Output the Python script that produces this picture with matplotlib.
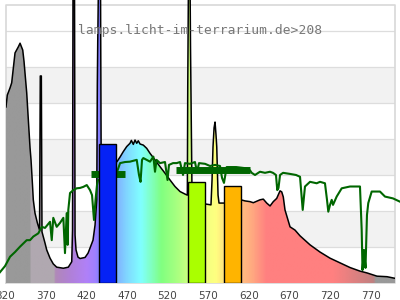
import matplotlib
matplotlib.use("Agg")
import matplotlib.pyplot as plt
import matplotlib.transforms as mtransforms
from matplotlib.colors import LinearSegmentedColormap
from matplotlib.patches import Polygon

# lamp spectrum, wavelength (nm) and relative intensity
lamp_nm = [321.2, 322.8, 326.2, 328.2, 332.3, 336.4, 338.5, 341.8, 343.4, 344.6,
           346.7, 348.7, 350.8, 352.0, 353.8, 354.8, 356.9, 359.8, 362.5, 363.4,
           364.7, 365.5, 369.2, 371.3, 375.4, 379.4, 383.6, 391.8, 397.9, 402.1,
           403.1, 403.7, 405.5, 406.2, 407.4, 409.8, 412.3, 418.5, 422.2, 424.6,
           428.3, 430.8, 432.9, 433.2, 433.6, 434.1, 435.1, 437.5, 438.3, 449.2,
           457.8, 461.6, 465.6, 469.8, 473.8, 475.5, 477.9, 480.0, 482.1, 484.0,
           486.2, 490.2, 494.4, 498.5, 504.6, 510.8, 516.9, 523.1, 529.2, 535.4,
           541.5, 544.4, 544.9, 545.8, 547.7, 548.3, 550.2, 565.0, 573.5, 574.8,
           576.0, 577.3, 578.5, 579.7, 580.6, 582.2, 583.4, 589.5, 610.5, 615.4,
           621.5, 625.6, 633.8, 637.9, 642.1, 646.2, 650.2, 654.4, 658.5, 660.6,
           662.5, 664.6, 670.8, 676.9, 683.1, 695.4, 707.7, 720.0, 732.3, 744.6,
           756.9, 765.5, 777.8, 790.2, 800.0]
lamp_val = [48.9, 52.2, 54.2, 55.6, 63.9, 65.6, 66.6, 64.7, 61.5, 58.3,
            52.8, 45.3, 37.5, 34.2, 27.2, 23.1, 19.4, 16.7, 14.7, 57.5,
            57.5, 14.2, 11.1, 9.2, 6.9, 5.3, 4.4, 4.1, 4.4, 5.9,
            14.7, 85.0, 85.0, 13.3, 9.2, 7.2, 6.8, 7.1, 8.3, 9.7,
            11.9, 16.1, 23.1, 36.9, 55.0, 66.7, 85.0, 85.0, 36.0, 34.0,
            33.7, 35.0, 36.5, 37.9, 38.8, 39.6, 38.5, 39.7, 38.8, 39.5,
            38.6, 38.3, 37.4, 36.0, 34.2, 32.3, 30.5, 28.6, 26.8, 25.4,
            24.7, 24.4, 54.4, 85.0, 85.0, 65.6, 24.0, 22.0, 21.7, 28.6,
            37.8, 43.1, 44.7, 41.1, 37.8, 24.4, 22.2, 22.2, 23.1, 22.8,
            22.6, 22.3, 23.1, 23.3, 22.2, 21.4, 22.6, 23.5, 25.6, 25.3,
            23.9, 20.3, 15.6, 14.7, 13.1, 10.6, 8.6, 6.9, 5.6, 4.3,
            3.3, 2.8, 1.9, 1.75, 1.3]

# sunlight reference curve
sun_nm = [313.8, 320.0, 326.2, 332.3, 338.5, 346.7, 350.8, 354.8, 361.0, 365.2,
          369.2, 375.4, 377.5, 379.4, 383.6, 387.7, 391.8, 393.8, 395.9, 397.1,
          397.9, 400.0, 404.1, 408.2, 412.3, 416.4, 420.6, 424.6, 427.1, 429.5,
          431.4, 433.2, 434.5, 446.0, 457.8, 461.6, 467.7, 473.8, 482.1, 484.9,
          486.8, 488.6, 490.2, 498.5, 502.6, 504.6, 506.5, 510.8, 516.9, 520.0,
          521.8, 526.8, 531.3, 535.4, 539.1, 541.5, 547.7, 553.8, 556.3, 558.8,
          566.2, 572.3, 578.5, 584.6, 587.1, 589.5, 592.8, 604.6, 615.4, 621.5,
          623.6, 627.7, 633.8, 640.0, 646.2, 649.8, 653.5, 655.1, 656.6, 658.5,
          662.2, 670.8, 678.2, 683.1, 686.4, 689.2, 695.4, 703.6, 707.7, 713.8,
          716.3, 717.9, 720.0, 722.1, 723.7, 728.2, 734.4, 744.6, 756.9, 759.0,
          760.0, 761.8, 763.7, 765.5, 767.1, 771.3, 781.5, 787.7, 797.5, 806.0]
sun_val = [3.0, 4.7, 7.3, 8.6, 10.1, 11.9, 11.9, 12.9, 13.8, 15.6,
           15.3, 17.0, 11.9, 18.1, 15.6, 16.7, 18.1, 8.3, 19.4, 10.6,
           20.3, 25.0, 25.8, 26.3, 26.4, 26.7, 27.2, 25.8, 24.4, 17.5,
           23.1, 27.2, 28.6, 30.0, 30.8, 33.3, 33.6, 33.7, 34.2, 30.0,
           28.1, 34.2, 34.7, 33.7, 35.1, 30.9, 34.2, 33.3, 33.6, 28.6,
           32.8, 33.3, 33.3, 33.6, 30.0, 33.3, 33.1, 33.6, 30.8, 33.3,
           33.1, 32.5, 32.8, 32.5, 29.2, 27.8, 32.2, 32.2, 31.9, 31.3,
           30.6, 30.0, 30.9, 30.6, 30.9, 30.6, 30.0, 25.8, 26.4, 30.0,
           30.6, 30.3, 30.0, 29.5, 20.3, 26.8, 28.1, 27.7, 28.1, 27.7,
           23.1, 19.8, 21.7, 23.1, 21.7, 24.0, 26.3, 26.8, 26.8, 14.7,
           3.6, 9.2, 4.2, 18.9, 22.2, 25.4, 25.4, 24.0, 23.5, 22.6]

# dense stretches of the sunlight curve, shown as thick bands
band_nm = [[426.0, 468.0], [531.0, 621.5]]
band_val = [[30.4, 30.4], [31.5, 31.5]]

# channel bars
bar_nm = [446.5, 555.5, 600.0]
bar_val = [38.6, 28.0, 26.9]

tick_nm = [320, 370, 420, 470, 520, 570, 620, 670, 720, 770]
title = "lamps.licht-im-terrarium.de>208"

# wavelength -> fill colour
grad_stops = [(321.2, "#999999"), (350.3, "#999999"), (350.8, "#b0a8b0"),
              (380.0, "#b0a8b0"), (381.5, "#b088b8"), (400.0, "#b080d8"),
              (420.0, "#b080f8"), (430.0, "#a080ff"), (436.0, "#8080ff"),
              (457.0, "#80b0ff"), (470.0, "#80d8ff"), (487.0, "#80ffff"),
              (500.0, "#80ffc0"), (512.0, "#80ff80"), (535.0, "#b0ff80"),
              (550.0, "#d8ff80"), (565.0, "#f0ff80"), (580.0, "#ffff80"),
              (590.0, "#ffe080"), (610.0, "#ffc080"), (625.0, "#ffa880"),
              (642.0, "#ff8080"), (725.0, "#ff8080"), (775.0, "#c08080"),
              (776.5, "#999999"), (800.0, "#999999")]

xmin, xmax = 321.2, 800.0
frame_top = 77.2
ymax = 78.6

fig = plt.figure(figsize=(4, 3), dpi=100)
ax = fig.add_axes([6 / 400, 17 / 300, 389 / 400, 283 / 300])
ax.set_xlim(xmin, xmax)
ax.set_ylim(0, ymax)
ax.axis("off")

# background bands and grid
for lo in (10, 30, 50):
    ax.axhspan(lo, lo + 10, color="#f2f2f2", lw=0, zorder=0)
for g in range(10, 80, 10):
    ax.axhline(g, color="#dddddd", lw=0.9, zorder=0.5)
ax.plot([xmin, xmin, xmax, xmax, xmin], [0, frame_top, frame_top, 0, 0],
        color="#d8d8d8", lw=1.2, zorder=0.6, clip_on=False)

# spectrum filled with wavelength colours
span = xmax - xmin
cmap = LinearSegmentedColormap.from_list(
    "spec", [((w - xmin) / span, c) for w, c in grad_stops])
grad = [[i / 999 for i in range(1000)]]
im = ax.imshow(grad, cmap=cmap, extent=(xmin, xmax, 0, ymax), aspect="auto",
               origin="lower", zorder=1, interpolation="bilinear")
verts = [(lamp_nm[0], 0)] + list(zip(lamp_nm, lamp_val)) + [(lamp_nm[-1], 0)]
clip = Polygon(verts, closed=True, facecolor="none", edgecolor="none")
ax.add_patch(clip)
im.set_clip_path(clip)
ax.plot(lamp_nm, lamp_val, color="black", lw=1.1, zorder=2)

# sunlight
for nm, val in zip(band_nm, band_val):
    ax.plot(nm, val, color="#006600", lw=5.0, solid_capstyle="butt", zorder=3)
ax.plot(sun_nm, sun_val, color="#006600", lw=1.5, zorder=3, clip_on=False)

# bars
ax.bar(bar_nm, bar_val, width=21, color=["#0522f5", "#aaff00", "#ffb400"],
       edgecolor="black", linewidth=1.0, zorder=4)

ax.text(409.8, 69.2, title, family="DejaVu Sans Mono", fontsize=9.4,
        color="#777777", ha="left", va="baseline", zorder=6)

trans = mtransforms.blended_transform_factory(ax.transData, ax.transAxes)
for t in tick_nm:
    ax.text(t, -0.058, str(t), transform=trans, ha="center", va="baseline",
            fontsize=7.5, color="#444444", clip_on=False)

fig.savefig("out.png", dpi=100)
